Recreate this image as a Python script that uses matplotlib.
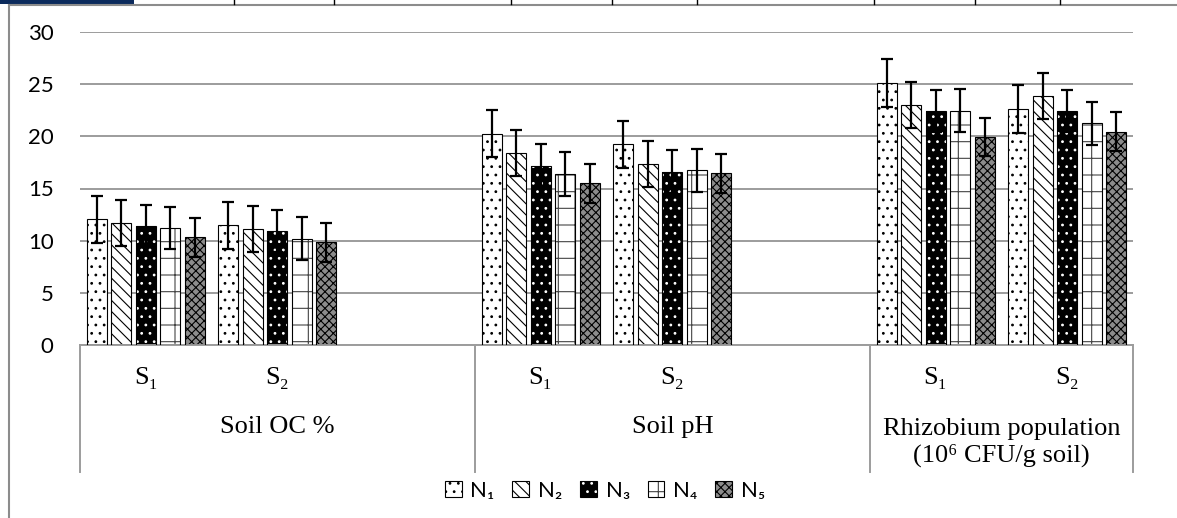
import matplotlib
matplotlib.use("Agg")
import matplotlib.pyplot as plt
from matplotlib.patches import Patch, Rectangle
from matplotlib.lines import Line2D
from matplotlib.legend_handler import HandlerTuple
import numpy as np

plt.rcParams['hatch.linewidth'] = 0.8

# Datos
grupos = ["Soil OC %", "Soil pH", "Rhizobium population\n(10\u2076 CFU/g soil)"]
subcats = ["S\u2081", "S\u2082"]
series = ["N\u2081", "N\u2082", "N\u2083", "N\u2084", "N\u2085"]

n1 = [12.05, 11.47, 20.26, 19.23, 25.11, 22.65]
n2 = [11.69, 11.09, 18.40, 17.35, 22.97, 23.87]
n3 = [11.40, 10.93, 17.19, 16.61, 22.43, 22.43]
n4 = [11.18, 10.19, 16.39, 16.74, 22.46, 21.25]
n5 = [10.32, 9.84, 15.50, 16.45, 19.94, 20.45]

e1 = [2.25, 2.27, 2.26, 2.27, 2.27, 2.30]
e2 = [2.20, 2.20, 2.20, 2.20, 2.20, 2.20]
e3 = [2.05, 2.00, 2.08, 2.05, 2.04, 2.00]
e4 = [2.00, 2.05, 2.08, 2.05, 2.04, 2.04]
e5 = [1.85, 1.88, 1.88, 1.86, 1.85, 1.88]

valores = [n1, n2, n3, n4, n5]
errores = [e1, e2, e3, e4, e5]

# estilo de cada serie: (relleno, trama, color de trama)
estilos = [("white", "..", "black"),
           ("white", "\\\\\\", "black"),
           ("black", "..", "white"),
           ("white", "+", "#444444"),
           ("#8c8c8c", "xxxx", "black")]

# posiciones: 3 + 3 + 2 ranuras (la tercera de cada grupo vacía)
slots = [0, 1, 3, 4, 6, 7]
bordes = [-0.5, 2.5, 5.5, 7.5]
centros_grupo = [1.0, 4.0, 6.5]

W, H = 1177, 518
fig = plt.figure(figsize=(W / 100, H / 100), dpi=100)
ax = fig.add_axes([80 / W, 1 - 345 / H, (1133 - 80) / W, (345 - 32) / H])

paso = 0.186
ancho = 0.152
x = np.array(slots, dtype=float)
for j in range(5):
    fc, hatch, hc = estilos[j]
    xs = x + (j - 2) * paso
    ax.bar(xs, valores[j], ancho, color=fc, hatch=hatch, edgecolor=hc, linewidth=0, zorder=2)
    ax.bar(xs, valores[j], ancho, fill=False, edgecolor="black", linewidth=0.8, zorder=3)
    ax.errorbar(xs, valores[j], yerr=errores[j], fmt="none", ecolor="black",
                elinewidth=1.6, capsize=4.3, capthick=1.6, zorder=4)

ax.set_xlim(-0.5, 7.5)
ax.set_ylim(0, 30)
ax.set_yticks(range(0, 31, 5))
ax.yaxis.grid(True, color="#9c9c9c", linewidth=1.4)
ax.set_axisbelow(True)
for s in ["left", "right", "top"]:
    ax.spines[s].set_visible(False)
ax.spines["bottom"].set_color("#9c9c9c")
ax.spines["bottom"].set_linewidth(1.4)
ax.set_xticks([])
ax.tick_params(axis="y", length=0, pad=19)
for t in ax.get_yticklabels():
    t.set_fontfamily(["Lato", "DejaVu Sans"])
    t.set_fontsize(16)

# ejes de categorías jerárquicos
tr = ax.get_xaxis_transform()
serif = ["Liberation Serif", "DejaVu Serif"]
for b in bordes:
    ax.plot([b, b], [0, -0.405], transform=tr, color="#9c9c9c", lw=1.4, clip_on=False)
for k, s in enumerate(slots):
    ax.text(s, -0.107, subcats[k % 2], transform=tr, ha="center", va="center",
            fontsize=19, family=serif)
for c, g in zip(centros_grupo, grupos):
    nl = g.count("\n")
    ax.text(c, -0.262 - 0.05 * nl, g, transform=tr, ha="center", va="center", fontsize=19,
            family=serif, linespacing=1.2)

# leyenda
handles = []
for fc, hatch, hc in estilos:
    handles.append((Patch(facecolor=fc, hatch=hatch, edgecolor=hc, linewidth=0),
                    Patch(fill=False, edgecolor="black", linewidth=0.8)))
fig.legend(handles, series, loc="center", bbox_to_anchor=(605 / W, 1 - 491 / H), ncol=5,
           frameon=False, handler_map={tuple: HandlerTuple(ndivide=1, pad=0)},
           handlelength=0.75, handleheight=0.75, handletextpad=0.4, columnspacing=0.8,
           prop={"family": ["Lato", "DejaVu Sans"], "size": 16})

# marco exterior del recorte
fig.add_artist(Rectangle((0, 1 - 4 / H), 134 / W, 4 / H, transform=fig.transFigure,
                         color="#0b2a5c", lw=0))
fig.add_artist(Line2D([9 / W, 1], [1 - 4.5 / H, 1 - 4.5 / H], transform=fig.transFigure,
                      color="#8c8c8c", lw=1.5))
fig.add_artist(Line2D([9 / W, 9 / W], [0, 1 - 4.5 / H], transform=fig.transFigure,
                      color="#8c8c8c", lw=1.5))
for px in [234, 334, 511, 612, 697, 874, 975, 1060]:
    fig.add_artist(Line2D([px / W, px / W], [1 - 4 / H, 1], transform=fig.transFigure,
                          color="black", lw=1))

plt.savefig("out.png", dpi=100)
